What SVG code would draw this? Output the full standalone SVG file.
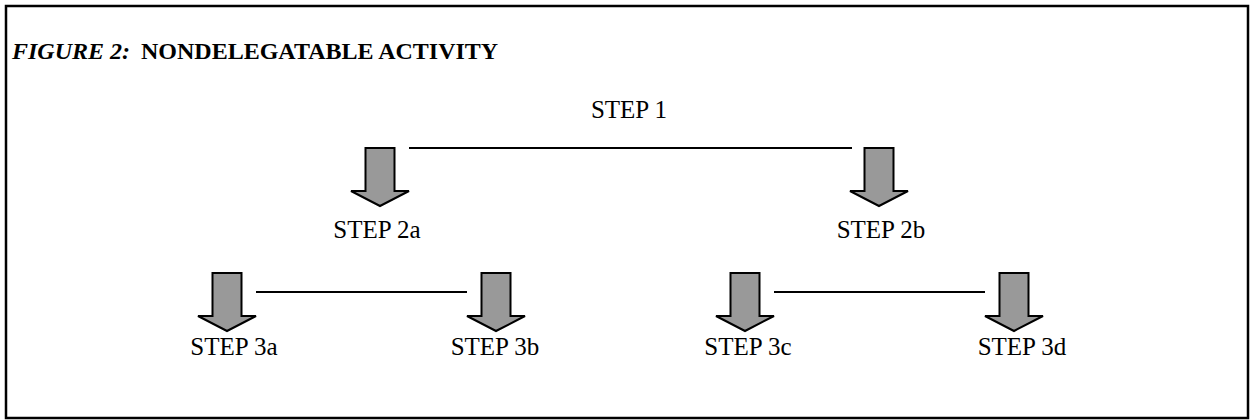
<svg xmlns="http://www.w3.org/2000/svg" width="1254" height="420" viewBox="0 0 1254 420">
<defs>
<style>
.lbl{font-family:"Liberation Serif","Times New Roman",serif;font-size:25px;fill:#000;text-anchor:middle}
.ttl{font-family:"Liberation Serif","Times New Roman",serif;font-size:24px;font-weight:bold;fill:#000}
.arr{fill:#999999;stroke:#000;stroke-width:2;stroke-linejoin:miter}
.ln{stroke:#000;stroke-width:2;fill:none}
</style>
<path id="dn2" class="arr" d="M-14.5,0 H14.5 V43 H29 L0,58 L-29,43 H-14.5 Z"/>
</defs>
<rect x="6" y="6" width="1242" height="412" fill="#fff" stroke="#000" stroke-width="2.5"/>
<text class="ttl" x="12" y="59"><tspan font-style="italic">FIGURE 2:</tspan><tspan x="141">NONDELEGATABLE ACTIVITY</tspan></text>
<g id="connectors">
<line class="ln" x1="409" y1="148" x2="852" y2="148"/>
<line class="ln" x1="256" y1="292" x2="467" y2="292"/>
<line class="ln" x1="774" y1="292" x2="985" y2="292"/>
</g>
<g id="step1"><text class="lbl" x="629" y="118">STEP 1</text></g>
<g id="step2a"><use href="#dn2" x="380" y="148"/><text class="lbl" x="377" y="238">STEP 2a</text></g>
<g id="step2b"><use href="#dn2" x="879" y="148"/><text class="lbl" x="881" y="238">STEP 2b</text></g>
<g id="step3a"><use href="#dn2" x="227" y="273"/><text class="lbl" x="234" y="355">STEP 3a</text></g>
<g id="step3b"><use href="#dn2" x="496" y="273"/><text class="lbl" x="495" y="355">STEP 3b</text></g>
<g id="step3c"><use href="#dn2" x="745" y="273"/><text class="lbl" x="748" y="355">STEP 3c</text></g>
<g id="step3d"><use href="#dn2" x="1014" y="273"/><text class="lbl" x="1022" y="355">STEP 3d</text></g>
</svg>
